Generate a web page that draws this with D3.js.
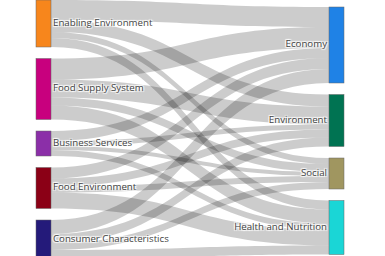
<!DOCTYPE html>
<html><head><meta charset="utf-8">
<script src="https://cdn.jsdelivr.net/npm/d3@7"></script>
<style>
html,body{margin:0;padding:0;background:#fff;overflow:hidden}
svg{display:block}
.lbl{font-family:"Open Sans",sans-serif;font-size:9.7px;fill:#444;
 text-shadow:1px 1px 1px #fff,-1px -1px 1px #fff,1px -1px 1px #fff,-1px 1px 1px #fff;}
</style></head>
<body><svg id="c" width="385" height="256"></svg>
<script>
const sources = ["Enabling Environment","Food Supply System","Business Services","Food Environment","Consumer Characteristics"];
const targets = ["Economy","Environment","Social","Health and Nutrition"];
const sourceColors = ["#f7861c","#c8007e","#8b2fa8","#8b0016","#241a7a"];
const targetColors = ["#1f82e6","#007352","#a09660","#1ad6d6"];
// link values: rows = sources, cols = targets
const toEconomy     = [20, 21, 10, 11, 14];
const toEnvironment = [12, 18,  5,  8,  9];
const toSocial      = [ 6,  8,  4,  6,  7];
const toHealth      = [ 9, 14,  6, 16,  9];

const W = 385, H = 256;
const svg = d3.select("#c");
const nodeW = 15, pad = 11.5;
const colX = d3.scaleLinear().domain([0,1]).range([36, 329]);
const colTop = [0, 7];

const matrix = [toEconomy, toEnvironment, toSocial, toHealth];
const links = [];
sources.forEach((s,i)=>targets.forEach((t,j)=>{
  const v = matrix[j][i];
  if (v>0) links.push({s:i,t:j,value:v});
}));
const srcVal = sources.map((_,i)=>d3.sum(links.filter(l=>l.s===i),l=>l.value));
const tgtVal = targets.map((_,j)=>d3.sum(links.filter(l=>l.t===j),l=>l.value));
const total = d3.sum(srcVal);
const colHeight = 259 - (sources.length-1)*pad;
const ky = d3.scaleLinear().domain([0,total]).range([0,colHeight]);

function stack(vals, top){
  let y = top; return vals.map(v=>{const n={y0:y,y1:y+ky(v)}; y=n.y1+pad; return n;});
}
const sNodes = stack(srcVal, colTop[0]);
const tNodes = stack(tgtVal, colTop[1]);

sNodes.forEach((n,i)=>{
  let y=n.y0;
  links.filter(l=>l.s===i).sort((a,b)=>a.t-b.t).forEach(l=>{l.sy0=y; y+=ky(l.value); l.sy1=y;});
});
tNodes.forEach((n,j)=>{
  let y=n.y0;
  links.filter(l=>l.t===j).sort((a,b)=>a.s-b.s).forEach(l=>{l.ty0=y; y+=ky(l.value); l.ty1=y;});
});

const x0 = colX(0)+nodeW, x1 = colX(1), xm = (x0+x1)/2;
svg.append("g").selectAll("path").data(links).join("path")
  .attr("d", l=>{
    const p = d3.path();
    p.moveTo(x0,l.sy0);
    p.bezierCurveTo(xm,l.sy0,xm,l.ty0,x1,l.ty0);
    p.lineTo(x1,l.ty1);
    p.bezierCurveTo(xm,l.ty1,xm,l.sy1,x0,l.sy1);
    p.closePath();
    return p.toString();
  })
  .attr("fill","rgba(0,0,0,0.2)");

const ng = svg.append("g");
ng.selectAll("rect.s").data(sNodes).join("rect")
  .attr("x",colX(0)).attr("y",d=>d.y0).attr("width",nodeW).attr("height",d=>d.y1-d.y0)
  .attr("fill",(d,i)=>sourceColors[i]).attr("stroke","#666").attr("stroke-width",0.5);
ng.selectAll("rect.t").data(tNodes).join("rect")
  .attr("x",colX(1)).attr("y",d=>d.y0).attr("width",nodeW).attr("height",d=>d.y1-d.y0)
  .attr("fill",(d,i)=>targetColors[i]).attr("stroke","#666").attr("stroke-width",0.5);

svg.append("g").selectAll("text").data(sNodes).join("text")
  .attr("class","lbl").attr("x",colX(0)+nodeW+2).attr("y",d=>(d.y0+d.y1)/2-1).attr("dy","0.35em")
  .text((d,i)=>sources[i]);
svg.append("g").selectAll("text").data(tNodes).join("text")
  .attr("class","lbl").attr("x",colX(1)-2).attr("y",d=>(d.y0+d.y1)/2-1).attr("dy","0.35em")
  .attr("text-anchor","end").text((d,i)=>targets[i]);
</script></body></html>
